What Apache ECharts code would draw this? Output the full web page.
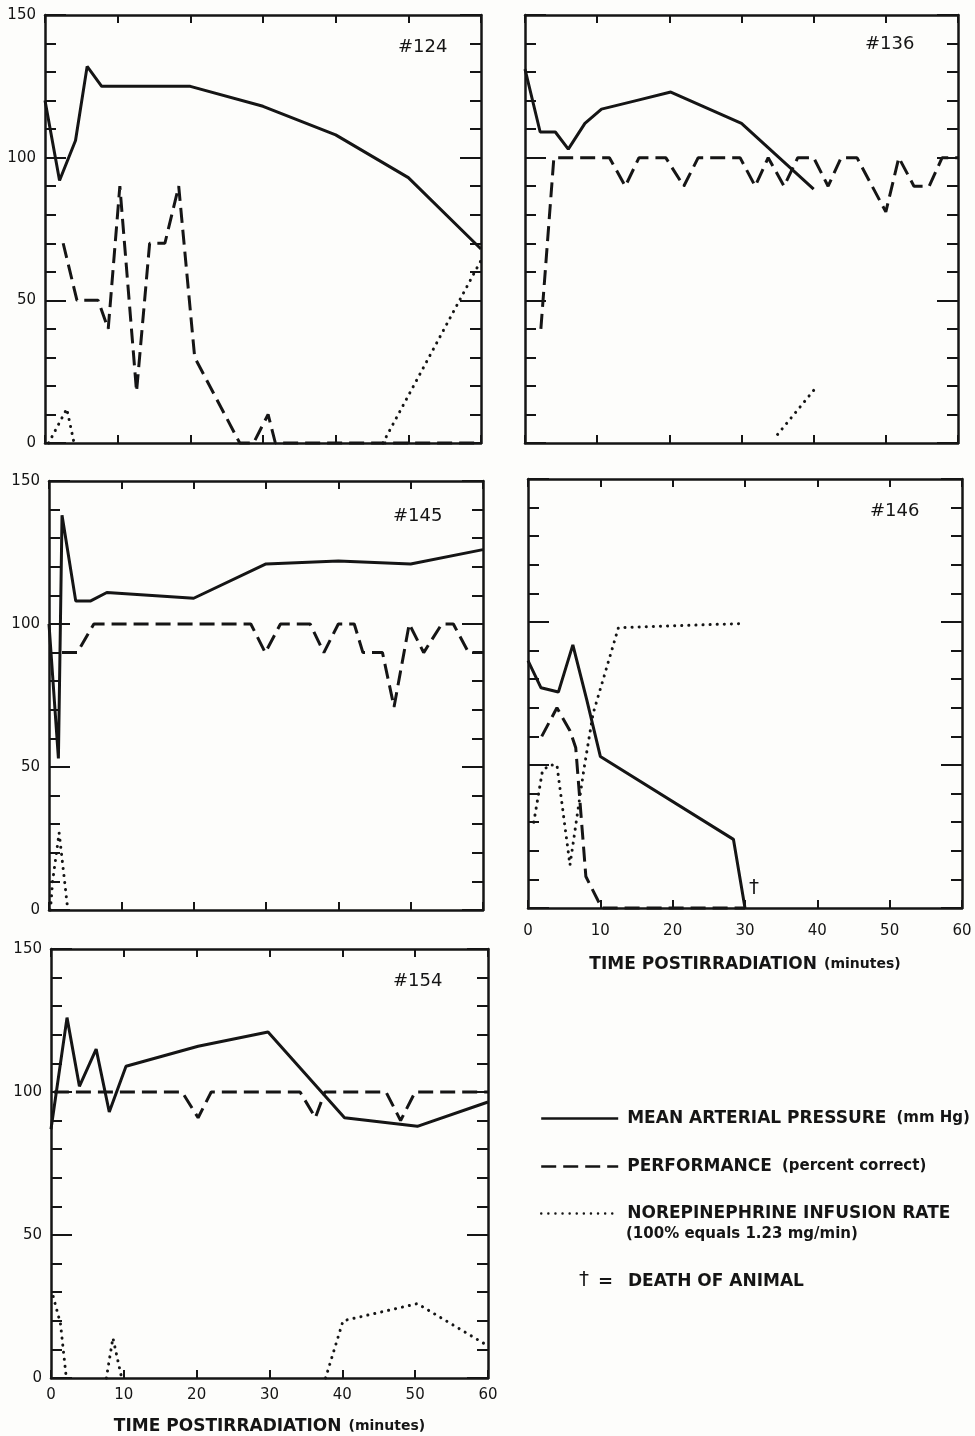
<!DOCTYPE html>
<html>
<head>
<meta charset="utf-8">
<style>
  html, body { margin: 0; padding: 0; background: #fdfdfb; }
  #chart { width: 975px; height: 1436px; }
</style>
<script src="https://cdn.jsdelivr.net/npm/echarts@6/dist/echarts.min.js"></script>
</head>
<body>
<div id="chart"></div>
<script>
// [minutes postirradiation, value]
const map124 = [[0,120],[2,92],[4.2,106],[5.8,132],[7.8,125],[20,125],[30,118],[40,108],[50,93],[60,68]];
const perf124 = [[2.5,70],[4.4,50],[7.3,50],[8.7,40],[10.3,90],[12.6,18],[14.4,70],[16.5,70],[18.4,90],[20.6,30],[26.8,0],[28.7,0],[30.7,10],[31.7,0],[60,0]];
const nor124 = [[[0.5,0],[3,12],[4,0]], [[46.5,0],[60,64]]];

const map136 = [[0,131],[2.1,109],[4.2,109],[6,103],[8.3,112],[10.6,117],[15.4,120],[20.2,123],[30,112],[40,89]];
const perf136 = [[2.2,40],[4,100],[11.7,100],[13.9,90],[15.8,100],[19.5,100],[22,90],[24,100],[29.8,100],[31.9,90],[33.7,100],[35.9,90],[37.8,100],[40,100],[42,90],[43.8,100],[46,100],[50,81],[51.8,100],[53.9,90],[56,90],[57.8,100],[60,100]];
const nor136 = [[[35,3],[40.5,20]]];

const map145 = [[0,100],[1.3,53],[1.8,138],[3.7,108],[5.7,108],[8,111],[20,109],[30,121],[40,122],[50,121],[60,126]];
const perf145 = [[1.8,90],[3.9,90],[6.2,100],[27.9,100],[29.9,90],[32,100],[36.1,100],[38,90],[40,100],[42.2,100],[43.4,90],[46.1,90],[47.7,71],[49.8,100],[51.8,90],[54.3,100],[55.9,100],[58,90],[60,90]];
const nor145 = [[[0.2,0],[0.5,10],[1.4,27],[1.8,18],[2.6,0]]];

const map146 = [[0,86.5],[1.8,77],[4.2,75.5],[6.2,92],[8.1,73],[10,53],[28.4,24],[30,0]];
const perf146 = [[1.9,60],[4,70],[5.8,62],[6.6,56],[8,11],[10.2,0],[30,0]];
const nor146 = [[[0.8,30],[2,48],[3,50],[4,50],[5.8,15],[7.7,48],[9,68],[12.5,98],[30,99.5]]];
const death146 = [30, 0];

const map154 = [[0,87],[2.2,126],[3.9,102],[6.2,115],[8,93],[10.3,109],[20.2,116],[29.8,121],[40.3,91],[50.3,88],[60,96.5]];
const perf154 = [[0.4,100],[18,100],[20.2,91],[22,100],[34.2,100],[36.3,91],[37.6,100],[46,100],[48,90],[50,100],[60,100]];
const nor154 = [[[0.3,28.5],[1.3,19],[2.1,0]], [[7.6,0],[8.5,14],[9.7,0]], [[37.7,0],[40.1,20],[50.3,26],[59.5,12]]];

const xTicks = [0, 60, 10];     // min, max, interval
const yTicks = [0, 150, 50];

const INK = '#151515';
const FONT = 'DejaVu Sans';
const N_MAP = 'MEAN ARTERIAL PRESSURE';
const N_PERF = 'PERFORMANCE';
const N_NOR = 'NOREPINEPHRINE INFUSION RATE';

const panels = [
  { id: '#124', map: map124, perf: perf124, nor: nor124, grid: { left: 45, top: 15, width: 436, height: 428 }, title: [398, 38], yLab: true, xLab: false },
  { id: '#136', map: map136, perf: perf136, nor: nor136, grid: { left: 525, top: 15, width: 433, height: 428 }, title: [865, 35], yLab: false, xLab: false },
  { id: '#145', map: map145, perf: perf145, nor: nor145, grid: { left: 49, top: 481, width: 434, height: 429 }, title: [393, 507], yLab: true, xLab: false },
  { id: '#146', map: map146, perf: perf146, nor: nor146, grid: { left: 528, top: 479, width: 434, height: 429 }, title: [870, 502], yLab: false, xLab: true, labMargin: 16, nameGap: 48 },
  { id: '#154', map: map154, perf: perf154, nor: nor154, grid: { left: 51, top: 949, width: 437, height: 429 }, title: [393, 972], yLab: true, xLab: true, labMargin: 10, nameGap: 40 }
];

const grids = [], xAxes = [], yAxes = [], series = [], titles = [];

panels.forEach(function (p, i) {
  grids.push(p.grid);
  titles.push({
    text: p.id, left: p.title[0], top: p.title[1], padding: 0,
    textStyle: { fontSize: 18, fontWeight: 'normal', color: INK, fontFamily: FONT }
  });
  ['bottom', 'top'].forEach(function (pos) {
    const withLab = pos === 'bottom' && p.xLab;
    xAxes.push({
      type: 'value', gridIndex: i, position: pos,
      min: xTicks[0], max: xTicks[1], interval: xTicks[2],
      axisLine: { show: true, onZero: false, lineStyle: { color: INK, width: 2.5 } },
      axisTick: { show: true, inside: true, length: 8, lineStyle: { color: INK, width: 2 } },
      splitLine: { show: false },
      axisLabel: { show: withLab, margin: p.labMargin || 8, fontSize: 15, color: INK, fontFamily: FONT },
      name: withLab ? '{a|TIME POSTIRRADIATION}{b|(minutes)}' : '',
      nameLocation: 'middle',
      nameGap: p.nameGap || 30,
      nameTextStyle: {
        rich: {
          a: { fontSize: 17, fontWeight: 'bold', color: INK, fontFamily: FONT },
          b: { fontSize: 14, fontWeight: 'bold', color: INK, fontFamily: FONT, padding: [0, 0, 0, 7] }
        }
      }
    });
  });
  ['left', 'right'].forEach(function (pos) {
    yAxes.push({
      type: 'value', gridIndex: i, position: pos,
      min: yTicks[0], max: yTicks[1], interval: yTicks[2],
      axisLine: { show: true, onZero: false, lineStyle: { color: INK, width: 2.5 } },
      axisTick: { show: true, inside: true, length: 21, lineStyle: { color: INK, width: 2 } },
      minorTick: { show: true, splitNumber: 5, length: 11, lineStyle: { color: INK, width: 2 } },
      splitLine: { show: false },
      axisLabel: { show: pos === 'left' && p.yLab, margin: 9, fontSize: 15, color: INK, fontFamily: FONT }
    });
  });

  const base = {
    type: 'line', xAxisIndex: 2 * i, yAxisIndex: 2 * i, symbol: 'none', clip: false, animation: false,
    itemStyle: { color: INK }
  };

  const mapSeries = Object.assign({}, base, {
    name: N_MAP, data: p.map,
    lineStyle: { color: INK, width: 3 }
  });
  if (p.id === '#146') {
    mapSeries.markPoint = {
      symbol: 'circle', symbolSize: 1, itemStyle: { color: 'rgba(0,0,0,0)' },
      label: { show: true, formatter: '†', position: 'inside', offset: [9, -20], fontSize: 20, color: INK, fontFamily: FONT },
      data: [{ coord: death146 }]
    };
  }
  series.push(mapSeries);
  series.push(Object.assign({}, base, {
    name: N_PERF, data: p.perf,
    lineStyle: { color: INK, width: 3, type: [15, 7] }
  }));
  p.nor.forEach(function (seg) {
    series.push(Object.assign({}, base, {
      name: N_NOR, data: seg,
      lineStyle: { color: INK, width: 3, type: [0.1, 7], cap: 'round' }
    }));
  });
});

const subText = {};
subText[N_MAP] = '(mm Hg)';
subText[N_PERF] = '(percent correct)';
subText[N_NOR] = '';

function legendAt(name, top) {
  return {
    data: [name], left: 540, top: top, orient: 'vertical', padding: 0,
    itemWidth: 77, itemHeight: 14, selectedMode: false,
    itemStyle: { opacity: 0 },
    lineStyle: { width: 2.4 },
    formatter: function (n) { return '{a|' + n + '}' + (subText[n] ? '{b|' + subText[n] + '}' : ''); },
    textStyle: {
      rich: {
        a: { fontSize: 17, fontWeight: 'bold', color: INK, fontFamily: FONT, padding: [0, 0, 0, 4] },
        b: { fontSize: 15, fontWeight: 'bold', color: INK, fontFamily: FONT, padding: [0, 0, 0, 10] }
      }
    }
  };
}

const chart = echarts.init(document.getElementById('chart'), null, { renderer: 'canvas' });
chart.setOption({
  backgroundColor: '#fdfdfb',
  animation: false,
  title: titles,
  grid: grids,
  xAxis: xAxes,
  yAxis: yAxes,
  legend: [legendAt(N_MAP, 1110), legendAt(N_PERF, 1158), legendAt(N_NOR, 1205)],
  graphic: [
    { type: 'text', left: 626, top: 1227, style: { text: '(100% equals 1.23 mg/min)', font: 'bold 15px "DejaVu Sans"', fill: INK } },
    { type: 'text', left: 579, top: 1270, style: { text: '†', font: '20px "DejaVu Sans"', fill: INK } },
    { type: 'text', left: 598, top: 1273, style: { text: '=', font: 'bold 18px "DejaVu Sans"', fill: INK } },
    { type: 'text', left: 628, top: 1273, style: { text: 'DEATH OF ANIMAL', font: 'bold 17px "DejaVu Sans"', fill: INK } }
  ],
  series: series
});
</script>
</body>
</html>
